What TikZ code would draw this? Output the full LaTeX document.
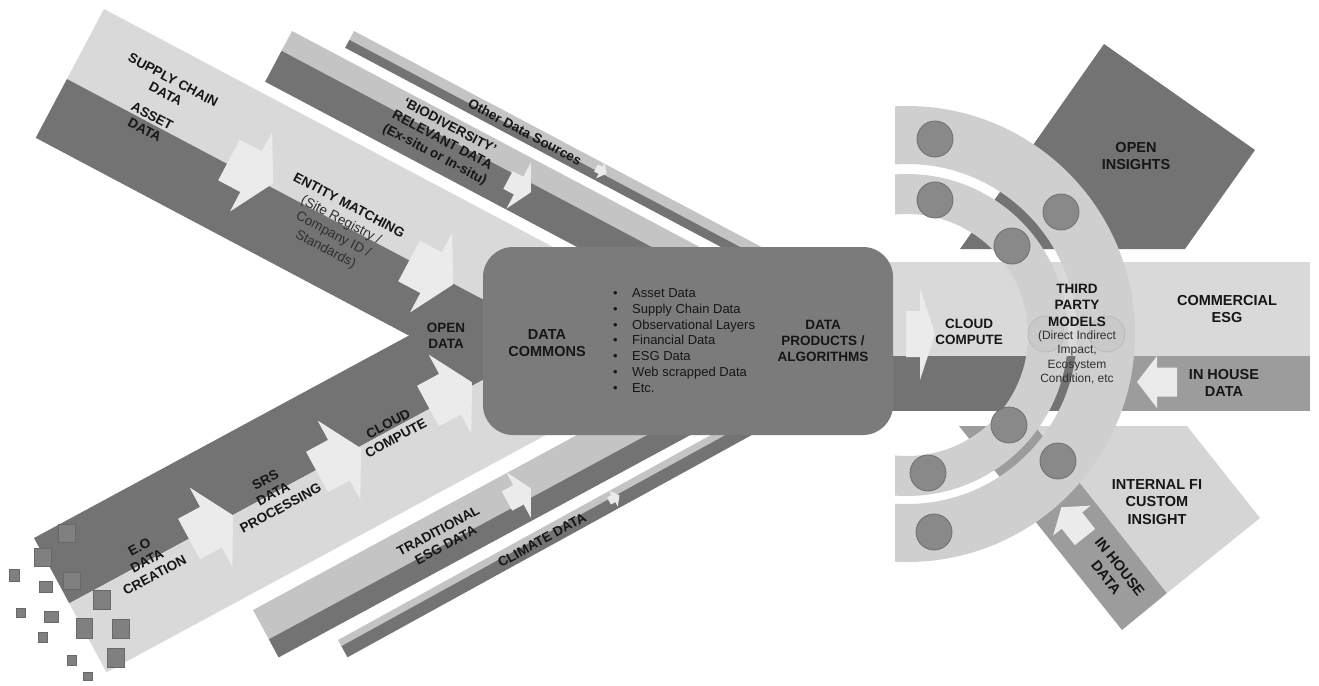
\documentclass[tikz,border=0pt]{standalone}
\usepackage{fontspec}
\setmainfont{Liberation Sans}
\definecolor{bandL}{HTML}{D9D9D9}
\definecolor{bandD}{HTML}{737373}
\definecolor{thinL}{HTML}{C4C4C4}
\definecolor{boxC}{HTML}{7B7B7B}
\definecolor{arrowC}{HTML}{EBEBEB}
\definecolor{ringC}{HTML}{CFCFCF}
\definecolor{dotC}{HTML}{898989}
\definecolor{dotE}{HTML}{6E6E6E}
\definecolor{faintC}{HTML}{C9C9C9}
\definecolor{faintE}{HTML}{B5B5B5}
\definecolor{midC}{HTML}{9C9C9C}
\definecolor{brL}{HTML}{D5D5D5}
\definecolor{sqC}{HTML}{808080}
\definecolor{sqE}{HTML}{686868}
\definecolor{txt}{HTML}{161616}
\definecolor{txt2}{HTML}{303030}
\tikzset{
  pics/barrow/.style n args={4}{code={\fill[arrowC] (0,-#2) -- (#1,-#2) -- (#1,-#4) -- ({#1+#3},0) -- (#1,#4) -- (#1,#2) -- (0,#2) -- cycle;}},
  lbl/.style={font=\bfseries\fontsize{13.5}{16}\selectfont, align=center, text=txt, inner sep=0pt},
  big/.style={font=\bfseries\fontsize{14.5}{17.5}\selectfont, align=center, text=txt, inner sep=0pt},
  dot/.style={fill=dotC, draw=dotE, line width=0.8pt},
  faint/.style={fill=faintC, draw=faintE, line width=0.6pt},
  sq/.style={fill=sqC, draw=sqE, line width=0.6pt},
}
\begin{document}
\begin{tikzpicture}[x=1pt,y=-1pt]
\useasboundingbox (0,0) rectangle (1319,685);
% ---- lower bands (drawn first)
\begin{scope}[shift={(338,640)},rotate=28.8]
  \fill[thinL] (0,0) rectangle (527,7);
  \fill[bandD] (0,7) rectangle (527,19.7);
\end{scope}
\begin{scope}[shift={(253,610)},rotate=28.37]
  \fill[thinL] (0,0) rectangle (576,33.3);
  \fill[bandD] (0,33.3) rectangle (576,53.9);
\end{scope}
\begin{scope}[shift={(34,538)},rotate=28.37]
  \fill[bandD] (0,0) rectangle (598,74.3);
  \fill[bandL] (0,74.3) rectangle (598,152.6);
\end{scope}
% ---- upper bands
\begin{scope}[shift={(354,31)},rotate=-27.92]
  \fill[thinL] (0,0) rectangle (505,10);
  \fill[bandD] (0,10) rectangle (505,19);
\end{scope}
\begin{scope}[shift={(292,31)},rotate=-27.92]
  \fill[thinL] (0,0) rectangle (530,22.4);
  \fill[bandD] (0,22.4) rectangle (530,57.4);
\end{scope}
\begin{scope}[shift={(104,9)},rotate=-27.92]
  \fill[bandL] (0,0) rectangle (528,79.2);
  \fill[bandD] (0,79.2) rectangle (528,145.8);
\end{scope}
% ---- arrows on the left
\pic[rotate=-27.92] at (229,160) {barrow={25}{23}{25}{45}};
\pic[rotate=-27.92] at (409,261) {barrow={25}{23}{25}{45}};
\pic[rotate=-27.92] at (508,180) {barrow={12}{10}{14}{26}};
\pic[rotate=-27.92] at (596,168) {barrow={5}{4}{7}{9}};
\pic[rotate=28.37] at (189,539) {barrow={25}{23}{25}{45}};
\pic[rotate=28.37] at (317,472) {barrow={25}{23}{25}{45}};
\pic[rotate=28.37] at (428,406) {barrow={25}{23}{25}{45}};
\pic[rotate=28.37] at (507,501) {barrow={13}{11}{14}{26}};
\pic[rotate=28.8] at (609,501) {barrow={5}{4}{7}{9}};
% ---- right side background shapes
\fill[bandD] (960,249) -- (1104,44) -- (1255,150) -- (1185,249) -- cycle;
\fill[bandL] (885,262) rectangle (1310,356);
\fill[bandD] (885,356) rectangle (1100,411);
\fill[midC] (1100,356) rectangle (1310,411);
\fill[midC] (959,426) -- (1035,426) -- (1167,593) -- (1122,630) -- cycle;
\fill[brL] (1035,426) -- (1187,426) -- (1260,518) -- (1167,593) -- cycle;
\pic at (906,334) {barrow={14}{23}{15}{46}};
\pic[rotate=180] at (1177,382) {barrow={20}{14.5}{20}{26}};
\pic[rotate=128.5] at (1085,537) {barrow={21}{13}{17}{24}};
% ---- central box
\node[fill=boxC, rounded corners=30pt, minimum width=410pt, minimum height=188pt, inner sep=0pt] (box) at (688,341) {};
% ---- rings
\begin{scope}
  \clip (895,0) rectangle (1319,685);
  \fill[ringC, even odd rule] (907,334) circle[radius=228pt] (907,334) circle[radius=170pt];
  \fill[ringC, even odd rule] (907,335) circle[radius=161pt] (907,335) circle[radius=121pt];
\end{scope}
\filldraw[faint] (1046,334) circle[radius=18pt];
\filldraw[faint] (1107,334) circle[radius=18pt];
\filldraw[dot] (935,139) circle[radius=18pt];
\filldraw[dot] (1061,212) circle[radius=18pt];
\filldraw[dot] (1058,461) circle[radius=18pt];
\filldraw[dot] (934,532) circle[radius=18pt];
\filldraw[dot] (935,200) circle[radius=18pt];
\filldraw[dot] (1012,246) circle[radius=18pt];
\filldraw[dot] (1009,425) circle[radius=18pt];
\filldraw[dot] (928,473) circle[radius=18pt];
% ---- texts, left
\node[lbl, rotate=-27.92] (sc) at (169.5,87) {SUPPLY CHAIN\\DATA};
\node[lbl, rotate=-27.92] (ad) at (148.5,123) {ASSET\\DATA};
\node[lbl, rotate=-27.92, font=\bfseries\fontsize{13.5}{16.5}\selectfont] (em) at (337,228) {ENTITY MATCHING\\{\mdseries\color{txt2}(Site Registry /}\\{\mdseries\color{txt2}Company ID /}\\{\mdseries\color{txt2}Standards)}};
\node[lbl, rotate=-27.92] (bio) at (442,141) {‘BIODIVERSITY’\\RELEVANT DATA\\(Ex-situ or In-situ)};
\node[lbl, rotate=-27.92] (ods) at (525,132) {Other Data Sources};
\node[lbl] (od) at (446,336) {OPEN\\DATA};
\node[lbl, rotate=28.37] (eo) at (147,561) {E.O\\DATA\\CREATION};
\node[lbl, rotate=28.37] (srs) at (273,494) {SRS\\DATA\\PROCESSING};
\node[lbl, rotate=28.37] (cc1) at (392,431) {CLOUD\\COMPUTE};
\node[lbl, rotate=28.37] (trad) at (442,538) {TRADITIONAL\\ESG DATA};
\node[lbl, rotate=28.8] (clim) at (542,540) {CLIMATE DATA};
% ---- texts, box
\node[big] (dc) at (547,343) {DATA\\COMMONS};
\node[anchor=west, align=left, inner sep=0pt, text=txt, font=\fontsize{13}{15.8}\selectfont] (list) at (613,340.5)
 {\makebox[19pt][l]{•}Asset Data\\\makebox[19pt][l]{•}Supply Chain Data\\\makebox[19pt][l]{•}Observational Layers\\\makebox[19pt][l]{•}Financial Data\\\makebox[19pt][l]{•}ESG Data\\\makebox[19pt][l]{•}Web scrapped Data\\\makebox[19pt][l]{•}Etc.};
\node[lbl] (dp) at (823,341) {DATA\\PRODUCTS /\\ALGORITHMS};
% ---- texts, right
\node[lbl] (cc2) at (969,332) {CLOUD\\COMPUTE};
\node[lbl, font=\bfseries\fontsize{13.5}{16.5}\selectfont] (tp) at (1077,305) {THIRD\\PARTY\\MODELS};
\node[inner sep=0pt, align=center, text=txt2, font=\fontsize{12}{14.3}\selectfont] (tpn) at (1077,357.5) {(Direct Indirect\\Impact,\\Ecosystem\\Condition, etc};
\node[big] (oi) at (1136,156) {OPEN\\INSIGHTS};
\node[big] (ce) at (1227,309) {COMMERCIAL\\ESG};
\node[big] (ih1) at (1224,383) {IN HOUSE\\DATA};
\node[big] (ifi) at (1157,502) {INTERNAL FI\\CUSTOM\\INSIGHT};
\node[big, rotate=-51.6] (ih2) at (1113,572) {IN HOUSE\\DATA};
% ---- squares
\filldraw[sq] (58,524) rectangle (75,542);
\filldraw[sq] (34,548) rectangle (51,566);
\filldraw[sq] (63,572) rectangle (80,589);
\filldraw[sq] (9,569) rectangle (19,581);
\filldraw[sq] (39,581) rectangle (52,592);
\filldraw[sq] (93,590) rectangle (110,609);
\filldraw[sq] (16,608) rectangle (25,617);
\filldraw[sq] (44,611) rectangle (58,622);
\filldraw[sq] (76,618) rectangle (92,638);
\filldraw[sq] (112,619) rectangle (129,638);
\filldraw[sq] (38,632) rectangle (47,642);
\filldraw[sq] (107,648) rectangle (124,667);
\filldraw[sq] (67,655) rectangle (76,665);
\filldraw[sq] (83,672) rectangle (92,680);
\end{tikzpicture}
\end{document}
